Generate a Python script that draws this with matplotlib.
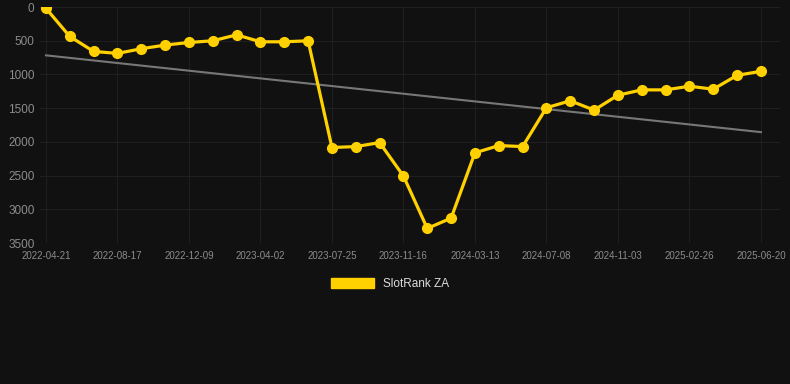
import numpy as np
import matplotlib.pyplot as plt
from matplotlib.patches import Patch

# rank values (lower = better), one point per snapshot
ranks = [20, 437, 659, 688, 619, 565, 526, 501, 413, 516, 516, 501,
         2084, 2070, 2011, 2507, 3284, 3131, 2163, 2055, 2070,
         1494, 1391, 1529, 1308, 1229, 1229, 1175, 1219, 1013, 954]
tick_labels = ['2022-04-21', '2022-08-17', '2022-12-09', '2023-04-02', '2023-07-25',
               '2023-11-16', '2024-03-13', '2024-07-08', '2024-11-03', '2025-02-26',
               '2025-06-20']
y_ticks = [0, 500, 1000, 1500, 2000, 2500, 3000, 3500]

bg = '#111111'
gold = '#FFD100'

plt.rcParams['font.family'] = ['Liberation Sans', 'DejaVu Sans']

fig = plt.figure(figsize=(7.9, 3.84), dpi=100, facecolor=bg)
ax = fig.add_axes([40/790, 1-243/384, 740/790, 236/384])
ax.set_facecolor(bg)

xs = np.arange(len(ranks))

# trend line (least squares fit)
k, b = np.polyfit(xs, ranks, 1)
ax.plot(xs, k*xs + b, color='#777777', lw=1.5, zorder=2)

ax.plot(xs, ranks, color=gold, lw=2.3, marker='o', ms=7, zorder=3)

ax.set_ylim(3500, 0)
ax.set_xlim(-0.25, 30.8)
ax.set_yticks(y_ticks)
ax.set_xticks(xs[::3])
ax.set_xticklabels(tick_labels)
ax.tick_params(axis='y', colors='#8c8c8c', labelsize=8.5, length=0, pad=4)
ax.tick_params(axis='x', colors='#8c8c8c', labelsize=7, length=0, pad=6)
ax.grid(True, color='#1f1f1f', lw=0.8)
for s in ax.spines.values():
    s.set_visible(False)
ax.axhline(3500, color='#2c2c2c', lw=0.8)

fig.legend(handles=[Patch(color=gold)], labels=['SlotRank ZA'],
           loc='center', bbox_to_anchor=(0.494, 1-284/384), frameon=False,
           labelcolor='#dddddd', fontsize=8.5, handlelength=3.6, handleheight=0.9)

fig.savefig('out.png', dpi=100, facecolor=bg)
